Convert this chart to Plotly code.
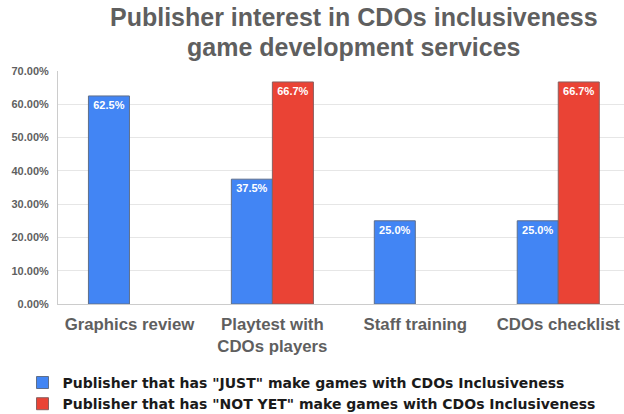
import plotly.graph_objects as go

categories = ["Graphics review", "Playtest with<br>CDOs players", "Staff training", "CDOs checklist"]
just_vals = [0.625, 0.375, 0.25, 0.25]
notyet_vals = [None, 0.667, None, 0.667]
series_names = ['Publisher that has "JUST" make games with CDOs Inclusiveness',
                'Publisher that has "NOT YET" make games with CDOs Inclusiveness']
ytick_vals = [0, 0.1, 0.2, 0.3, 0.4, 0.5, 0.6, 0.7]
ytick_text = ["0.00%", "10.00%", "20.00%", "30.00%", "40.00%", "50.00%", "60.00%", "70.00%"]
title_lines = ["Publisher interest in CDOs inclusiveness", "game development services"]

def lbl(v):
    return [("" if x is None else f"<b>{x*100:.1f}%</b>") for x in v]

fig = go.Figure()
fig.add_trace(go.Bar(x=categories, y=just_vals, name="<b>" + series_names[0] + "</b>",
                     marker=dict(color="#4285F4", line=dict(color="#5f6f8a", width=1)),
                     text=lbl(just_vals), textposition="inside", insidetextanchor="end",
                     textfont=dict(color="white", size=11, family="Liberation Sans"),
                     textangle=0))
fig.add_trace(go.Bar(x=categories, y=notyet_vals, name="<b>" + series_names[1] + "</b>",
                     marker=dict(color="#EA4335", line=dict(color="#8a5f5f", width=1)),
                     text=lbl(notyet_vals), textposition="inside", insidetextanchor="end",
                     textfont=dict(color="white", size=11, family="Liberation Sans"),
                     textangle=0))

fig.update_layout(
    width=624, height=414,
    margin=dict(l=58, r=0, t=71, b=110, autoexpand=False),
    paper_bgcolor="white", plot_bgcolor="white",
    barmode="group", bargap=0.426, bargroupgap=0,
    font=dict(family="Liberation Sans", color="#5f5f5f"),
    showlegend=True,
    legend=dict(orientation="v", x=(22.5 - 58) / 566, xanchor="left", y=-0.27, yanchor="top",
                font=dict(size=14, color="#1a1a1a", family="DejaVu Sans"),
                tracegroupgap=0, bgcolor="rgba(0,0,0,0)"),
)
fig.add_annotation(text="<b>" + title_lines[0] + "</b>", xref="paper", yref="paper",
                   x=(354 - 58) / 566, y=(304 - 17) / 233, xanchor="center", yanchor="middle",
                   showarrow=False, font=dict(size=25, color="#5f5f5f", family="Liberation Sans"))
fig.add_annotation(text="<b>" + title_lines[1] + "</b>", xref="paper", yref="paper",
                   x=(354 - 58) / 566, y=(304 - 47) / 233, xanchor="center", yanchor="middle",
                   showarrow=False, font=dict(size=25, color="#5f5f5f", family="Liberation Sans"))
fig.update_xaxes(range=[-0.5, 3.46], showline=True, linecolor="#cccccc", linewidth=1,
                 tickfont=dict(size=16.8, color="#5f5f5f", family="Liberation Sans"),
                 tickprefix="<b>", ticksuffix="</b>",
                 ticks="outside", ticklen=5, tickcolor="rgba(0,0,0,0)",
                 showgrid=False, automargin=False)
fig.update_yaxes(range=[0, 0.7], tickvals=ytick_vals, ticktext=["<b>" + t + "</b>" for t in ytick_text],
                 tickfont=dict(size=11, color="#5f5f5f", family="Liberation Sans"),
                 gridcolor="#e6e6e6", showline=True, linecolor="#cccccc", linewidth=1,
                 zeroline=False, ticks="", ticklabelstandoff=6, automargin=False)
fig.write_html("out.html")
